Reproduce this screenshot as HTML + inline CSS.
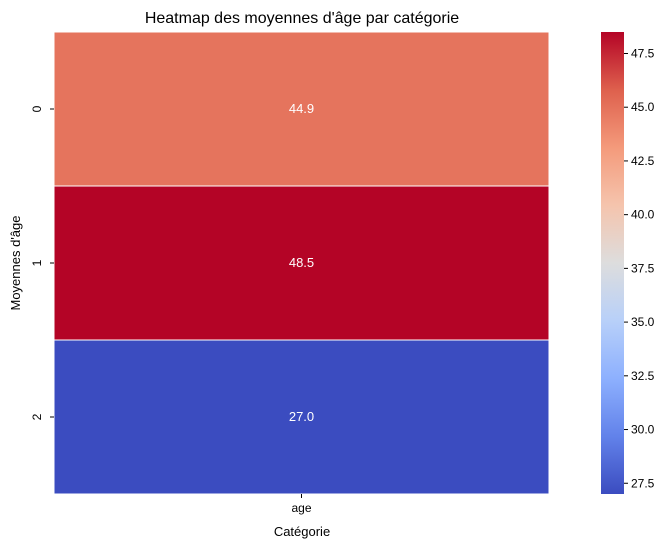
<!DOCTYPE html>
<html><head><meta charset="utf-8"><style>
html,body{margin:0;padding:0;background:#fff;}
svg text{font-family:"Liberation Sans","DejaVu Sans",sans-serif;}
</style></head><body>
<svg id="chart" width="654" height="548" xmlns="http://www.w3.org/2000/svg">
<defs><linearGradient id="cw" x1="0" y1="1" x2="0" y2="0"></linearGradient></defs>
<text x="302" y="23" font-size="16" text-anchor="middle" fill="#000">Heatmap des moyennes d'âge par catégorie</text>
<g id="cells"></g>
<g id="yticks"></g>
<g id="xticks"></g>
<text x="302" y="536" font-size="13" text-anchor="middle">Catégorie</text>
<text transform="translate(20,263) rotate(-90)" font-size="13" text-anchor="middle">Moyennes d'âge</text>
<rect x="601" y="32" width="23" height="462" fill="url(#cw)"/>
<g id="cbticks"></g>
</svg>
<script>
const rowLabels = ["0","1","2"];
const colLabels = ["age"];
const values = [44.9, 48.5, 27.0];
const cbTicks = [27.5,30.0,32.5,35.0,37.5,40.0,42.5,45.0,47.5];

const NS="http://www.w3.org/2000/svg";
const stops=[[59,76,192],[98,130,234],[141,176,254],[184,208,249],[221,221,221],[245,196,173],[244,154,123],[222,96,77],[180,4,38]];
function cmap(t){t=Math.max(0,Math.min(1,t));const p=t*8,i=Math.min(7,Math.floor(p)),f=p-i;
const a=stops[i],b=stops[i+1];return "rgb("+a.map((v,k)=>Math.round(v+(b[k]-v)*f)).join(",")+")";}
const vmin=Math.min(...values),vmax=Math.max(...values);
const x0=54,x1=549,y0=32,y1=494;
const rh=(y1-y0)/rowLabels.length,cw=(x1-x0)/colLabels.length;
function mk(tag,attrs,parent){const e=document.createElementNS(NS,tag);for(const k in attrs)e.setAttribute(k,attrs[k]);parent.appendChild(e);return e;}
const g=document.getElementById('cells'),yt=document.getElementById('yticks'),xt=document.getElementById('xticks'),cb=document.getElementById('cbticks');
const grad=document.getElementById('cw');
stops.forEach((s,i)=>{mk('stop',{offset:(i/8),'stop-color':'rgb('+s.join(',')+')'},grad);});
values.forEach((v,i)=>{
 const t=(v-vmin)/(vmax-vmin);
 const r=mk('rect',{x:x0,y:y0+i*rh,width:cw,height:rh,fill:cmap(t),stroke:'#fff','stroke-width':1},g);
 
 
 const tx=mk('text',{x:x0+cw/2,y:y0+i*rh+rh/2+4,'font-size':13,'text-anchor':'middle',fill:'#fff'},g);
 tx.textContent=v.toFixed(1);
 
 
 const yc=y0+i*rh+rh/2;
 mk('line',{x1:x0-4,x2:x0,y1:yc,y2:yc,stroke:'#000'},yt);
 const lt=mk('text',{transform:'translate('+(x0-13)+','+yc+') rotate(-90)','font-size':12,'text-anchor':'middle'},yt);
 lt.textContent=rowLabels[i];
 
 
});
colLabels.forEach((c,j)=>{
 const xc=x0+j*cw+cw/2;
 mk('line',{x1:xc,x2:xc,y1:y1,y2:y1+4,stroke:'#000'},xt);
 const t=mk('text',{x:xc,y:y1+18,'font-size':12,'text-anchor':'middle'},xt);
 t.textContent=c;
 
 
});
cbTicks.forEach(v=>{
 const y=y1-(v-vmin)/(vmax-vmin)*(y1-y0);
 mk('line',{x1:624,x2:628,y1:y,y2:y,stroke:'#000'},cb);
 const t=mk('text',{x:631,y:y+4,'font-size':12},cb);
 t.textContent=v.toFixed(1);
 
 
});
</script>
</body></html>
